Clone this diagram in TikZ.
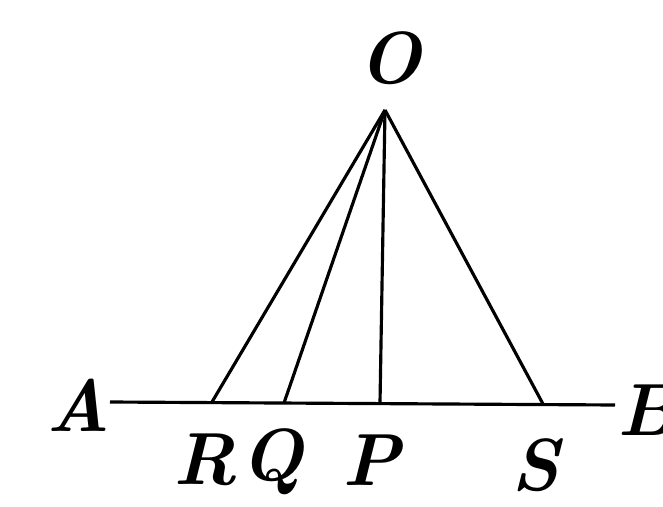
\documentclass[tikz,border=0pt]{standalone}
\begin{document}
\begin{tikzpicture}[x=0.02cm, y=-0.02cm,
  lbl/.style={font=\fontsize{42}{46}\selectfont\bfseries\itshape, inner sep=0pt},
  ln/.style={line width=1.8pt}
]
\useasboundingbox (0,0) rectangle (663,507);

% vertex and feet
\coordinate (o) at (385,110);
\coordinate (a) at (110,402);
\coordinate (b) at (615,405);
\coordinate (r) at (212,402);
\coordinate (q) at (284,403);
\coordinate (p) at (380,403);
\coordinate (s) at (543,404);

\node[lbl] (lo) at (390,58) {O};
\node[lbl] (la) at (78,405) {A};
\node[lbl] (lb) at (648,410) {B};
\node[lbl] (lr) at (205,460) {R};
\node[lbl] (lq) at (272,462) {Q};
\node[lbl] (lp) at (372,460) {P};
\node[lbl] (ls) at (535,465) {S};

\draw[ln] (a) -- (b);
\draw[ln] (o) -- (r);
\draw[ln] (o) -- (q);
\draw[ln] (o) -- (p);
\draw[ln] (o) -- (s);
\end{tikzpicture}
\end{document}
